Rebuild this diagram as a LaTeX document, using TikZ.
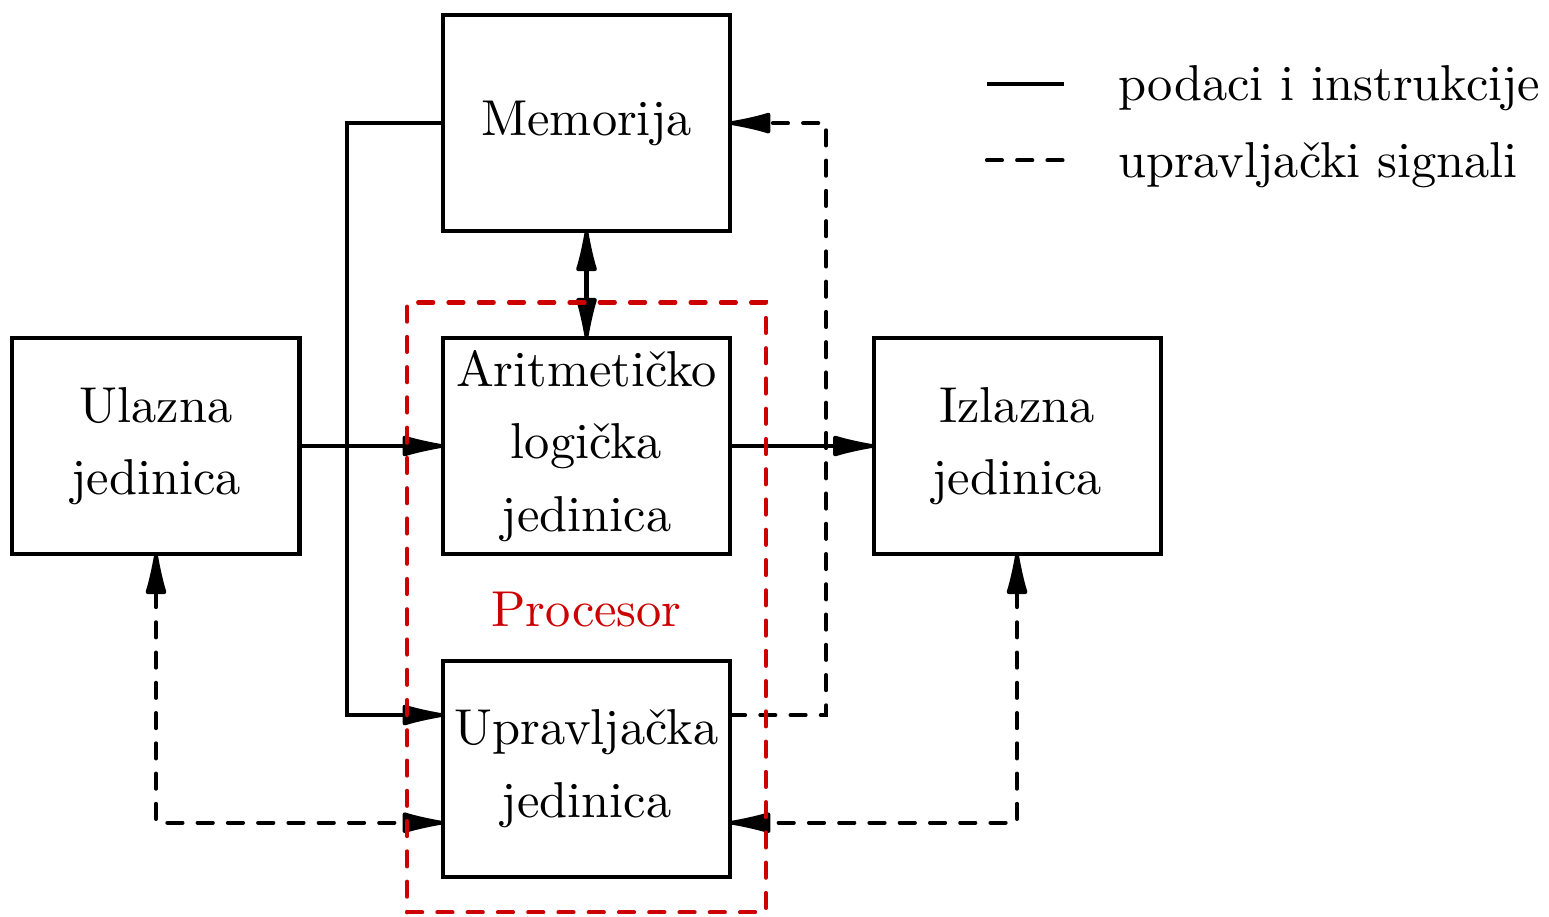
\documentclass[tikz,border=0pt]{standalone}
\usepackage{amsmath}
\usepackage{tikz}
\usetikzlibrary{fit,arrows.meta}
\definecolor{procred}{RGB}{204,0,0}

\begin{document}
\begin{tikzpicture}[>={Latex[length=10.5pt,width=4.4pt,round]},
	blok/.style={shape=rectangle, draw=black, thick, minimum width=2cm, minimum height=1.5cm, inner sep=0pt, outer sep=0pt, align=center, font=\linespread{1.2}\selectfont},
	upravlja/.style={thick, dashed, line cap=round},
	procesor/.style={draw=procred, thick, dashed, line cap=round, inner sep=0.25cm}]
	\useasboundingbox (-4.087,-3.282) rectangle (6.707,3.108);
	\node[blok] (mem) at (0,2.25) {Memorija};
	\node[blok] (alu) at (0,0) {Aritmetičko\\logička\\jedinica};
	\node[blok] (upr) at (0,-2.25) {Upravljačka\\jedinica};
	\node[blok] (ul) at (-3,0) {Ulazna\\jedinica};
	\node[blok] (iz) at (3,0) {Izlazna\\jedinica};
	\node[text=procred] (proclab) at (0,-1.14) {Procesor};
	% podaci i instrukcije
	\path[thick,<->] (mem) edge (alu);
	\path[thick,->] (ul) edge (alu);
	\path[thick,->] (alu) edge (iz);
	\draw[thick,->] (mem.west) -- ++(-0.67,0) |- ([yshift=0.375cm]upr.west);
	% upravljacki signali
	\draw[upravlja,->] ([yshift=0.375cm]upr.east) -- ++(0.67,0) |- (mem.east);
	\draw[upravlja,<->] (ul.south) |- ([yshift=-0.375cm]upr.west);
	\draw[upravlja,<->] (iz.south) |- ([yshift=-0.375cm]upr.east);
	\node[procesor, fit=(alu)(upr)] (proc) {};
	% legenda
	\coordinate (l1a) at (2.79,2.52);
	\coordinate (l1b) at (3.33,2.52);
	\coordinate (l2a) at (2.79,1.99);
	\coordinate (l2b) at (3.33,1.99);
	\draw[thick] (l1a) -- (l1b);
	\draw[upravlja] (l2a) -- (l2b);
	\node[anchor=west] (leg1) at (3.58,2.49) {podaci i instrukcije};
	\node[anchor=west] (leg2) at (3.58,1.96) {upravljački signali};
\end{tikzpicture}
\end{document}
